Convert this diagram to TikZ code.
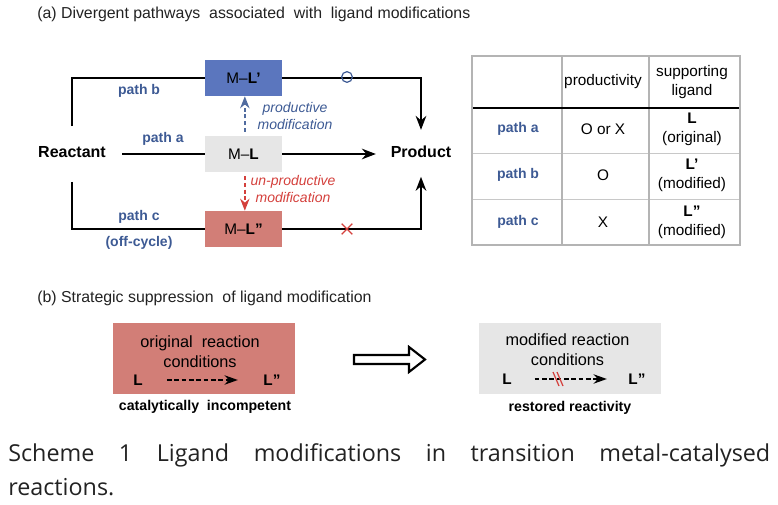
\documentclass[tikz,border=0pt]{standalone}
\usepackage{fontspec}
\setmainfont{Liberation Sans}
\newfontfamily\capfont{Open Sans}
\usetikzlibrary{arrows.meta,shapes.misc}
\definecolor{mlblue}{HTML}{5B76BE}
\definecolor{mlred}{HTML}{D27E77}
\definecolor{mlgray}{HTML}{E6E6E6}
\definecolor{pathblue}{HTML}{3D5A94}
\definecolor{modred}{HTML}{D4403C}
\definecolor{tabframe}{HTML}{B4B4B4}
\definecolor{tabgrid}{HTML}{C8C8C8}
\definecolor{inkgray}{HTML}{222222}
\tikzset{
  every node/.style={inner sep=0pt},
  flow/.style={line width=1.4pt},
  tip/.style={-{Stealth[length=10.5pt,width=8pt]}},
  cplx/.style={fill=#1, minimum width=57.75pt, minimum height=27pt,
    font=\fontsize{11.5}{13}\selectfont},
  species/.style={font=\fontsize{12}{14}\selectfont\bfseries},
  pathlab/.style={font=\fontsize{10.5}{12}\selectfont\bfseries, text=pathblue},
  modlab/.style={font=\fontsize{10.5}{12.5}\selectfont\itshape, align=center},
  headtxt/.style={font=\fontsize{11.9}{14}\selectfont, text=inkgray, anchor=west},
  celltxt/.style={font=\fontsize{11.5}{14}\selectfont, align=center},
  condbox/.style={fill=#1, minimum width=136.5pt, minimum height=53.25pt},
  condtxt/.style={font=\fontsize{12.2}{15}\selectfont, align=center},
  condlig/.style={font=\fontsize{11.5}{13}\selectfont\bfseries},
  condarrow/.style={line width=1.5pt, dash pattern=on 3.5pt off 2pt,
    -{Stealth[length=10pt,width=7pt]}},
  verdict/.style={font=\fontsize{10.6}{12}\selectfont\bfseries}
}
\begin{document}
\begin{tikzpicture}[x=0.75pt,y=-0.75pt]
\useasboundingbox (0,0) rectangle (778,505);

% (a) pathways
\node[headtxt] (titlea) at (37,14) {(a) Divergent pathways\ \ associated\ \ with\ \ ligand modifications};

\node[species] (reactant) at (72,152) {Reactant};
\node[species] (product) at (421,152) {Product};
\node[cplx=mlblue] (mlb) at (243.5,78) {M--\textbf{L’}};
\node[cplx=mlgray] (mla) at (243.5,154) {M--\textbf{L}};
\node[cplx=mlred] (mlc) at (243.5,229) {M--\textbf{L”}};

\draw[flow] ([yshift=15pt]reactant.north) |- (mlb.west);
\draw[flow,tip] (mlb.east) -| ([yshift=12pt]product.north);
\draw[flow, shorten <=12pt] (reactant.east |- mla.west) -- (mla.west);
\draw[flow,tip,shorten >=11pt] (mla.east) -- (product.west |- mla.east);
\draw[flow] ([yshift=-18pt]reactant.south) |- (mlc.west);
\draw[flow,tip] (mlc.east) -| ([yshift=-14pt]product.south);

\draw[line width=1.4pt, draw=pathblue!90, dash pattern=on 3pt off 2pt,
  -{Stealth[length=9pt,width=7pt]}, shorten <=3pt] ([xshift=1pt]mla.north) -- ([xshift=1pt]mlb.south);
\draw[line width=1.4pt, draw=modred, dash pattern=on 3pt off 2pt,
  -{Stealth[length=9pt,width=7pt]}, shorten <=3pt] ([xshift=1pt]mla.south) -- ([xshift=1pt]mlc.north);

\node[modlab, text=pathblue] (prodmod) at (295,116) {productive\\modification};
\node[modlab, text=modred] (unprodmod) at (293,189) {un-productive\\modification};

\node[pathlab] (pb) at (139,91) {path b};
\node[pathlab] (pa) at (163,139) {path a};
\node[pathlab] (pc) at (139,217) {path c};
\node[pathlab] (offc) at (139,243) {(off-cycle)};

\node[circle, draw=pathblue, line width=0.9pt, minimum size=8pt] (okmark) at (347,77) {};
\node[cross out, draw=modred, line width=1pt, minimum size=7pt] (nomark) at (347,229) {};

% table
\draw[tabgrid, line width=0.6pt] (472,153) -- (740,153) (472,199) -- (740,199);
\draw[tabframe, line width=1.3pt] (562,56) -- (562,245) (649,56) -- (649,245);
\draw[line width=1.4pt] (472,108) -- (740,108);
\draw[tabframe, line width=2.2pt] (472,56) rectangle (740,245);

\node[celltxt] (hprod) at (603,82) {productivity};
\node[celltxt] (hlig) at (692,82) {supporting\\ligand};
\node[pathlab] (ta) at (518,129) {path a};
\node[pathlab] (tb) at (518,175) {path b};
\node[pathlab] (tc) at (518,222) {path c};
\node[celltxt] (pra) at (603,129) {O or X};
\node[celltxt] (prb) at (603,175) {O};
\node[celltxt] (prc) at (603,222) {X};
\node[celltxt] (lga) at (692,129) {\textbf{L}\\(original)};
\node[celltxt] (lgb) at (692,175) {\textbf{L’}\\(modified)};
\node[celltxt] (lgc) at (692,222) {\textbf{L”}\\(modified)};

% (b) suppression
\node[headtxt] (titleb) at (37,298) {(b) Strategic suppression\ \ of ligand modification};

\node[condbox=mlred] (orig) at (204,358.5) {};
\node[condtxt] (origtxt) at (200,352) {original\ \ reaction\\conditions};
\node[condlig] (origL) at (138,380) {L};
\node[condlig] (origLpp) at (272,380) {L”};
\draw[condarrow, shorten <=18pt, shorten >=19pt] (origL) -- (origLpp);
\node[verdict] (incomp) at (205,407) {catalytically\ \ incompetent};

\draw[line width=1.6pt] (354,355) -- (409,355) -- (409,347) -- (425,359.5)
  -- (409,372) -- (409,364) -- (354,364) -- cycle;

\node[condbox=mlgray] (modc) at (570,358.5) {};
\node[condtxt] (modtxt) at (567.5,350) {modified reaction\\conditions};
\node[condlig] (modL) at (507,379) {L};
\node[condlig] (modLpp) at (637,379) {L”};
\draw[condarrow, shorten <=17pt, shorten >=16pt] (modL) -- (modLpp);
\draw[modred, line width=0.9pt] (553,372) -- (559,386) (557,372) -- (563,386);
\node[verdict] (restored) at (570,408) {restored reactivity};

% caption
\node[anchor=west, text=inkgray, font=\capfont\fontsize{17.5}{21}\selectfont] (cap1) at (8,455)
  {\makebox[571.5pt][s]{Scheme 1 Ligand modifications in transition metal-catalysed}};
\node[anchor=west, text=inkgray, font=\capfont\fontsize{17.5}{21}\selectfont] (cap2) at (8,487) {reactions.};
\end{tikzpicture}
\end{document}
